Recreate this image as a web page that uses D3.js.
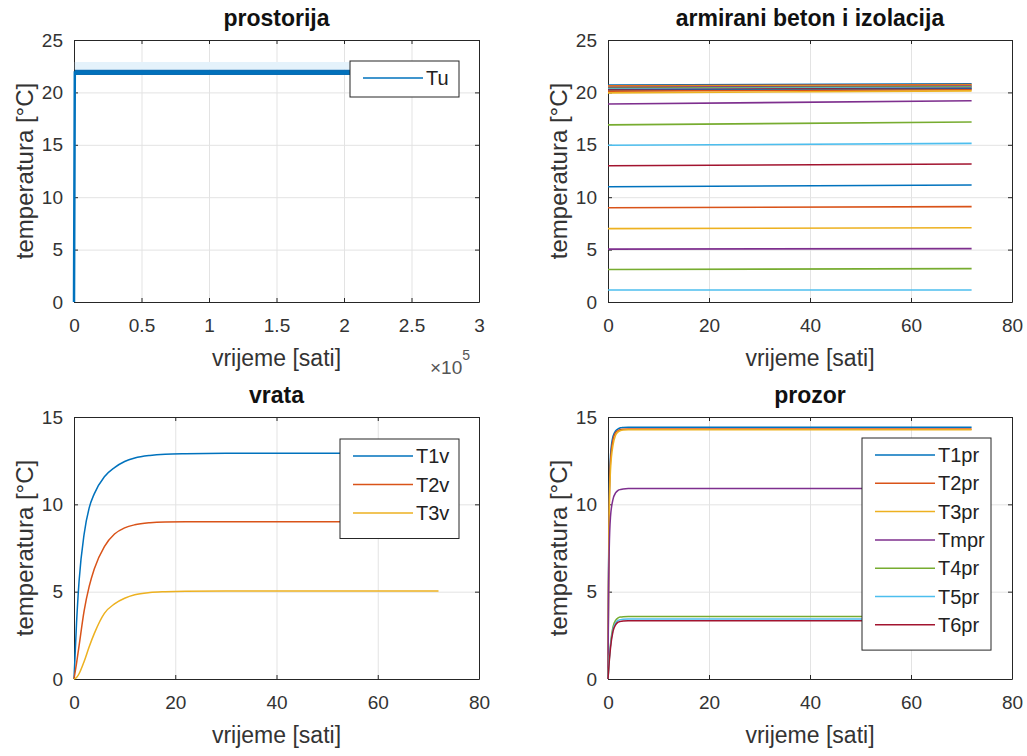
<!DOCTYPE html>
<html>
<head>
<meta charset="utf-8">
<script src="https://cdn.jsdelivr.net/npm/d3@7"></script>
<style>
  body { margin: 0; background: #fff; }
  text { font-family: "Liberation Sans", Arial, sans-serif; }
</style>
</head>
<body>
<svg id="fig"></svg>
<script>
// MATLAB default line colours
var colors = ["#0072BD", "#D95319", "#EDB120", "#7E2F8E", "#77AC30", "#4DBEEE", "#A2142F"];

// prostorija (x in seconds)
var tuTime = [0, 600, 259200];
var tuTemp = [0, 21.9, 21.9];
var tuNoiseLow = 21.65;   // envelope of the oscillation
var tuNoiseHigh = 22.15;
var tuHaloHigh = 22.9;

// armirani beton i izolacija (hours), value at start and end of run
var betonTime = [0, 72];
var betonStart = [20.7, 20.62, 20.55, 20.48, 20.4, 20.33, 20.25, 20.18, 20.12, 19.95,
                  18.9, 16.9, 14.95, 13.0, 11.0, 9.0, 7.0, 5.05, 3.1, 1.15];
var betonEnd = [20.82, 20.75, 20.68, 20.6, 20.53, 20.46, 20.39, 20.32, 20.26, 20.15,
                19.2, 17.18, 15.14, 13.17, 11.16, 9.1, 7.09, 5.09, 3.18, 1.15];

// vrata
var vrataNames = ["T1v", "T2v", "T3v"];
var vrataTime = [0, 0.5, 1, 2, 3, 4, 6, 8, 10, 12, 15, 18, 22, 30, 72];
var T1v = [0, 3.2, 5.6, 8.3, 9.8, 10.6, 11.58, 12.1, 12.45, 12.65, 12.8, 12.87, 12.9, 12.92, 12.92];
var T2v = [0, 0.9, 1.9, 3.9, 5.3, 6.3, 7.58, 8.3, 8.65, 8.83, 8.95, 8.99, 9.0, 9.0, 9.0];
var T3v = [0, 0.08, 0.3, 1.0, 1.85, 2.6, 3.76, 4.3, 4.62, 4.82, 4.95, 5.0, 5.03, 5.04, 5.04];

// prozor
var prozorNames = ["T1pr", "T2pr", "T3pr", "Tmpr", "T4pr", "T5pr", "T6pr"];
var prozorTime = [0, 0.1, 0.25, 0.5, 1, 1.5, 2, 2.5, 3, 4, 72];
var T1pr = [0, 6, 10.5, 12.8, 13.9, 14.2, 14.32, 14.38, 14.4, 14.42, 14.42];
var T2pr = [0, 5.5, 10, 12.5, 13.7, 14.1, 14.22, 14.28, 14.3, 14.32, 14.32];
var T3pr = [0, 5, 9.5, 12.0, 13.4, 13.95, 14.15, 14.22, 14.25, 14.27, 14.27];
var Tmpr = [0, 4.5, 7.5, 9.3, 10.3, 10.65, 10.8, 10.85, 10.88, 10.9, 10.9];
var T4pr = [0, 0.5, 1.2, 2.0, 3.0, 3.35, 3.5, 3.55, 3.57, 3.58, 3.58];
var T5pr = [0, 0.45, 1.1, 1.9, 2.85, 3.2, 3.35, 3.4, 3.42, 3.43, 3.43];
var T6pr = [0, 0.4, 1.0, 1.8, 2.75, 3.1, 3.25, 3.3, 3.32, 3.33, 3.33];

// tick values
var ticksHours = [0, 20, 40, 60, 80];
var ticksSeconds = [0, 0.5e5, 1e5, 1.5e5, 2e5, 2.5e5, 3e5];
var ticks25 = [0, 5, 10, 15, 20, 25];
var ticks15 = [0, 5, 10, 15];

var width = 1027, height = 756;
var svg = d3.select("#fig").attr("width", width).attr("height", height);
svg.append("rect").attr("width", width).attr("height", height).attr("fill", "#fff");

var zip = (xs, ys) => xs.map((x, i) => [x, ys[i]]);

function panel(cfg) {
  var b = cfg.box;
  var x = d3.scaleLinear().domain(cfg.xDomain).range([b.left, b.right]);
  var y = d3.scaleLinear().domain(cfg.yDomain).range([b.bottom, b.top]);
  var g = svg.append("g");

  // grid
  g.append("g")
    .attr("transform", `translate(0,${b.bottom})`)
    .call(d3.axisBottom(x).tickValues(cfg.xTicks).tickSize(-(b.bottom - b.top)).tickFormat(""))
    .call(a => a.select(".domain").remove())
    .call(a => a.selectAll("line").attr("stroke", "#e3e3e3"));
  g.append("g")
    .attr("transform", `translate(${b.left},0)`)
    .call(d3.axisLeft(y).tickValues(cfg.yTicks).tickSize(-(b.right - b.left)).tickFormat(""))
    .call(a => a.select(".domain").remove())
    .call(a => a.selectAll("line").attr("stroke", "#e3e3e3"));

  // box with inward ticks
  var axes = [
    [d3.axisBottom(x).tickValues(cfg.xTicks).tickFormat(cfg.xFormat || d3.format("d")), `translate(0,${b.bottom})`],
    [d3.axisTop(x).tickValues(cfg.xTicks).tickFormat(""), `translate(0,${b.top})`],
    [d3.axisLeft(y).tickValues(cfg.yTicks).tickFormat(d3.format("d")), `translate(${b.left},0)`],
    [d3.axisRight(y).tickValues(cfg.yTicks).tickFormat(""), `translate(${b.right},0)`]
  ];
  axes.forEach(([ax, tr], i) => {
    var pad = i < 2 ? 17 : 11;
    g.append("g").attr("transform", tr)
      .call(ax.tickSize(-4).tickSizeOuter(0).tickPadding(pad))
      .call(a => a.select(".domain").attr("stroke", "#262626"))
      .call(a => a.selectAll("line").attr("stroke", "#262626"))
      .call(a => a.selectAll("text").attr("fill", "#333").attr("font-size", 19).attr("font-family", "Liberation Sans, Arial, sans-serif"));
  });

  // lines drawn over the box, like the original
  var line = d3.line().x(d => x(d[0])).y(d => y(d[1])).curve(cfg.curve || d3.curveLinear);
  var plot = g.append("g");
  if (cfg.before) cfg.before(plot, x, y);
  cfg.series.forEach(s => {
    plot.append("path")
      .attr("d", line(s.points))
      .attr("fill", "none")
      .attr("stroke", s.color)
      .attr("stroke-width", s.width || 1.5);
  });

  var cx = (b.left + b.right) / 2, cy = (b.top + b.bottom) / 2;
  g.append("text").attr("x", cx).attr("y", b.top - 14).attr("text-anchor", "middle")
    .attr("font-size", 23).attr("font-weight", "bold").attr("fill", "#111").text(cfg.title);
  g.append("text").attr("x", cx).attr("y", b.bottom + 64).attr("text-anchor", "middle")
    .attr("font-size", 23).attr("fill", "#333").text("vrijeme [sati]");
  g.append("text").attr("transform", `translate(${b.left - 41},${cy}) rotate(-90)`).attr("text-anchor", "middle")
    .attr("font-size", 24).attr("fill", "#333").text("temperatura [°C]");

  if (cfg.legend) {
    var L = cfg.legend;
    var lg = g.append("g").attr("transform", `translate(${L.x},${L.y})`);
    var rows = cfg.series.filter(s => s.name);
    lg.append("rect").attr("width", L.w).attr("height", 14 + rows.length * L.step)
      .attr("fill", "#fff").attr("stroke", "#262626").attr("stroke-width", 1);
    rows.forEach((s, i) => {
      var yy = 17 + i * L.step;
      lg.append("line").attr("x1", 13).attr("x2", 73).attr("y1", yy).attr("y2", yy)
        .attr("stroke", s.color).attr("stroke-width", 1.5);
      lg.append("text").attr("x", 76).attr("y", yy).attr("dy", "0.35em")
        .attr("font-size", 20).attr("fill", "#222").text(s.name);
    });
  }
  return { g: g, x: x, y: y };
}

// top left: prostorija
var p1 = panel({
  box: { left: 74, right: 479, top: 40, bottom: 302 },
  xDomain: [0, 3e5], yDomain: [0, 25],
  xTicks: ticksSeconds, yTicks: ticks25,
  xFormat: d => d / 1e5,
  title: "prostorija",
  before: (plot, x, y) => {
    var span = tuTime.slice(1);
    plot.append("path")
      .attr("d", d3.area().x(d => x(d)).y0(y(tuNoiseHigh)).y1(y(tuHaloHigh))(span))
      .attr("fill", "#e4f2fb");
    plot.append("path")
      .attr("d", d3.area().x(d => x(d)).y0(y(tuNoiseLow)).y1(y(tuNoiseHigh))(span))
      .attr("fill", "#0a6db3");
  },
  series: [{ name: "Tu", color: colors[0], width: 2.5, points: zip(tuTime, tuTemp) }],
  legend: { x: 350, y: 61, w: 109, step: 22 }
});
var sci = p1.g.append("text").attr("x", 430).attr("y", 374).attr("font-size", 19).attr("fill", "#555");
sci.append("tspan").text("×10");
sci.append("tspan").attr("dy", -14).attr("font-size", 14).text("5");

// top right: armirani beton i izolacija
panel({
  box: { left: 608, right: 1012, top: 40, bottom: 302 },
  xDomain: [0, 80], yDomain: [0, 25],
  xTicks: ticksHours, yTicks: ticks25,
  title: "armirani beton i izolacija",
  series: betonStart.map((v, i) => ({
    color: colors[i % 7],
    width: 1.6,
    points: zip(betonTime, [v, betonEnd[i]])
  }))
});

// bottom left: vrata
panel({
  box: { left: 74, right: 479, top: 417, bottom: 679 },
  xDomain: [0, 80], yDomain: [0, 15],
  xTicks: ticksHours, yTicks: ticks15,
  title: "vrata",
  curve: d3.curveMonotoneX,
  series: [T1v, T2v, T3v].map((ys, i) => ({ name: vrataNames[i], color: colors[i], points: zip(vrataTime, ys) })),
  legend: { x: 340, y: 439, w: 119, step: 28.5 }
});

// bottom right: prozor
panel({
  box: { left: 608, right: 1012, top: 417, bottom: 679 },
  xDomain: [0, 80], yDomain: [0, 15],
  xTicks: ticksHours, yTicks: ticks15,
  title: "prozor",
  curve: d3.curveMonotoneX,
  series: [T1pr, T2pr, T3pr, Tmpr, T4pr, T5pr, T6pr].map((ys, i) => ({ name: prozorNames[i], color: colors[i], points: zip(prozorTime, ys) })),
  legend: { x: 862, y: 438, w: 129, step: 28.3 }
});
</script>
</body>
</html>
